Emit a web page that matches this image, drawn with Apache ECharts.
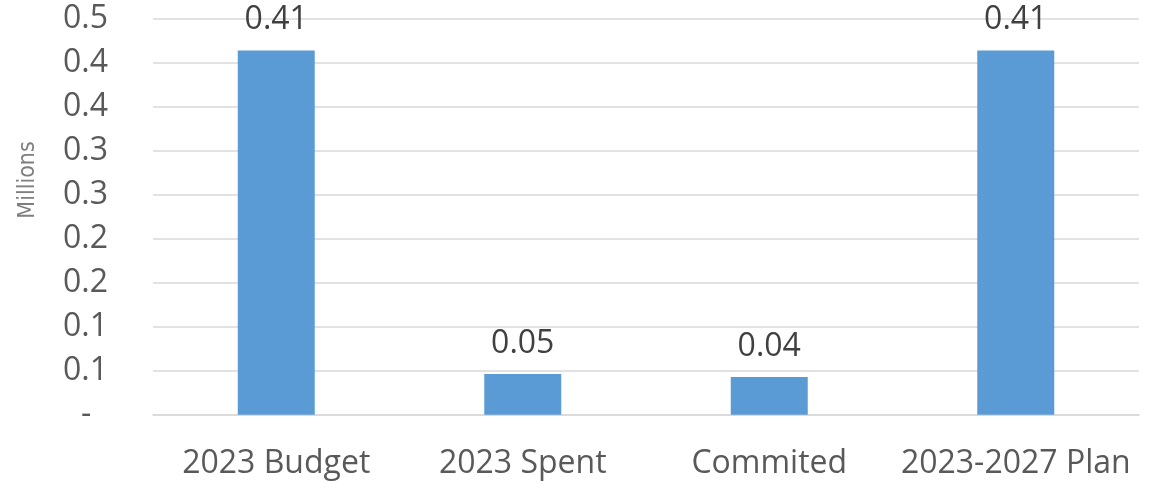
<!DOCTYPE html>
<html>
<head>
<meta charset="utf-8">
<script src="https://cdn.jsdelivr.net/npm/echarts@6/dist/echarts.min.js"></script>
<style>
  html, body { margin: 0; padding: 0; background: #fff; }
  #chart { width: 1156px; height: 482px; }
</style>
</head>
<body>
<div id="chart"></div>
<script>
// data (values in millions)
const categories = ['2023 Budget', '2023 Spent', 'Commited', '2023-2027 Plan']
const amounts = [0.414, 0.0462, 0.0428, 0.414]

const font = '"Open Sans", "Liberation Sans", sans-serif'

// Excel-style 1 decimal labels, zero shown as a dash
function yLabel(v) {
    if (Math.abs(v) < 1e-9) return '-  '
    return (Math.round(v * 10 + 1e-9) / 10).toFixed(1)
}

let mychart = echarts.init(document.getElementById('chart'))
mychart.setOption({
    animation: false,
    grid: { left: 153, right: 17, top: 18.7, bottom: 67.3 },
    xAxis: {
        type: 'category',
        data: categories,
        axisLine: { lineStyle: { color: '#d9d9d9', width: 1.5 } },
        axisTick: { show: false },
        axisLabel: { interval: 0, color: '#595959', fontSize: 32, fontFamily: font, margin: 33 }
    },
    yAxis: {
        type: 'value',
        min: 0,
        max: 0.45,
        interval: 0.05,
        axisLine: { show: false },
        axisTick: { show: false },
        splitLine: { lineStyle: { color: '#d9d9d9', width: 1.5 } },
        axisLabel: { color: '#595959', fontSize: 32, fontFamily: font, margin: 45, formatter: yLabel }
    },
    // rotated unit title on the left
    graphic: [{
        type: 'text',
        x: 28,
        y: 180,
        rotation: Math.PI / 2,
        style: {
            text: 'Millions',
            fill: '#7f7f7f',
            fontSize: 23,
            fontFamily: '"Liberation Sans Narrow", "DejaVu Sans Condensed", sans-serif',
            align: 'center',
            verticalAlign: 'middle'
        }
    }],
    series: [{
        type: 'bar',
        data: amounts,
        barWidth: 77,
        itemStyle: { color: '#5b9bd5' },
        label: {
            show: true,
            position: 'top',
            distance: 14,
            color: '#404040',
            fontSize: 32,
            fontFamily: font,
            formatter: p => p.value.toFixed(2)
        }
    }]
})
</script>
</body>
</html>
